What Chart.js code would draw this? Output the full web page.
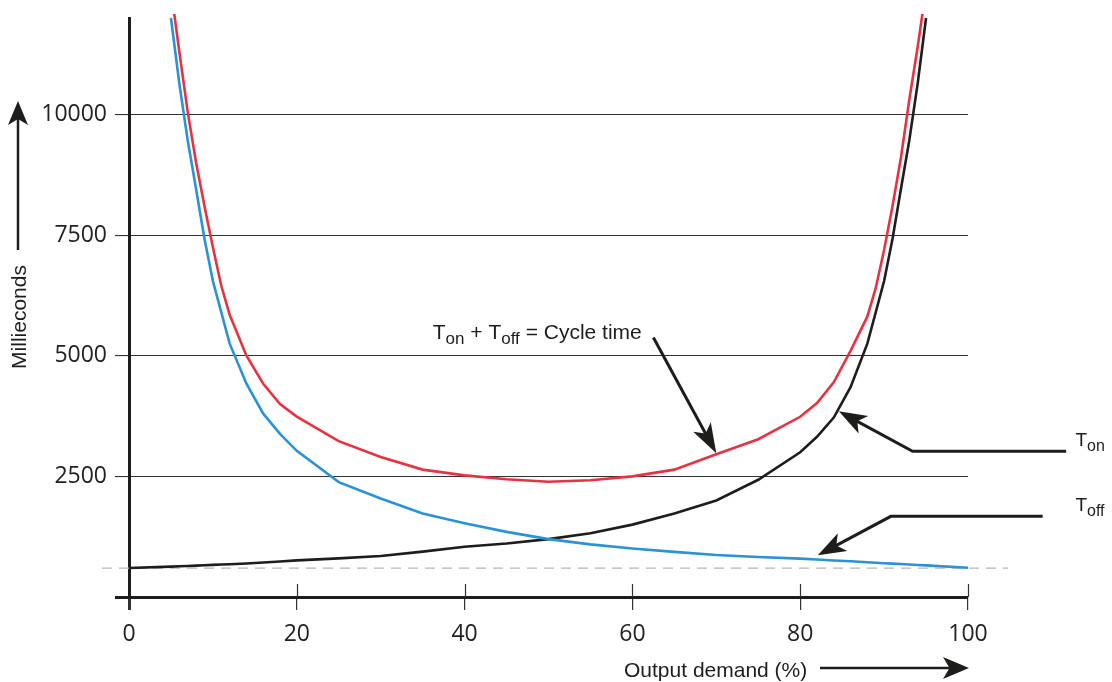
<!DOCTYPE html>
<html>
<head>
<meta charset="utf-8">
<script src="https://cdn.jsdelivr.net/npm/chart.js@4"></script>
<style>
  html, body { margin: 0; padding: 0; background: #fff; }
  #wrap { width: 1112px; height: 682px; position: relative; }
</style>
</head>
<body>
<div id="wrap"><canvas id="cycleChart"></canvas></div>
<script>
// Output demand (%) along the x axis
const demand = [0, 5, 6, 7, 8, 9, 10, 11, 12, 14, 16, 18, 20, 25, 30, 35, 40, 45, 50,
                55, 60, 65, 70, 75, 80, 82, 84, 86, 88, 89, 90, 91, 92, 93, 94, 95, 100];

// milliseconds
const tOff = [null, 12000, 10640, 9460, 8450, 7420, 6550, 5900, 5250, 4420, 3800, 3380, 3030,
              2380, 2040, 1730, 1530, 1350, 1200, 1090, 1005, 935, 870, 830, 795, 777, 758,
              740, 720, 710, 700, 692, 683, 673, 664, 655, 605];
const tOn = [600, 630, 636, 642, 650, 657, 665, 672, 680, 695, 715, 735, 760, 800, 850, 940,
             1040, 1110, 1200, 1320, 1500, 1730, 2000, 2430, 3000, 3320, 3720, 4350, 5250,
             5900, 6550, 7420, 8450, 9460, 10640, 12000, null];
const cycleTime = [null, 12600, 11300, 10050, 9000, 8100, 7250, 6450, 5850, 5000, 4420, 4000,
                   3740, 3230, 2900, 2640, 2520, 2440, 2390, 2420, 2500, 2640, 2960, 3270, 3735,
                   4020, 4450, 5100, 5810, 6400, 7190, 8100, 9100, 10300, 11400, 12600, null];

const yTickValues = [0, 2500, 5000, 7500, 10000];
const xTickStep = 20;
const baseTime = 600;

const ink = '#1d1d1b';
const textFont = '"Liberation Sans", Arial, sans-serif';

Chart.defaults.font.family = '"Open Sans", sans-serif';

function pts(vals) {
    return demand.map((d, i) => ({ x: d, y: vals[i] }));
}

function arrowHead(ctx, fx, fy, tx, ty, len, half) {
    const a = Math.atan2(ty - fy, tx - fx);
    ctx.save();
    ctx.translate(tx, ty);
    ctx.rotate(a);
    ctx.beginPath();
    ctx.moveTo(0, 0);
    ctx.lineTo(-len, -half);
    ctx.lineTo(-len * 0.75, 0);
    ctx.lineTo(-len, half);
    ctx.closePath();
    ctx.fill();
    ctx.restore();
}

// polyline ending in a filled arrow head
function leader(ctx, p, len, half) {
    const n = p.length;
    const [ax, ay] = p[n - 2], [bx, by] = p[n - 1];
    const d = Math.hypot(bx - ax, by - ay);
    const ex = bx - (bx - ax) / d * len * 0.6, ey = by - (by - ay) / d * len * 0.6;
    ctx.beginPath();
    ctx.moveTo(p[0][0], p[0][1]);
    for (let i = 1; i < n - 1; i++) ctx.lineTo(p[i][0], p[i][1]);
    ctx.lineTo(ex, ey);
    ctx.stroke();
    arrowHead(ctx, ax, ay, bx, by, len, half);
}

function subText(ctx, parts, x, y, size, subSize, drop) {
    ctx.textAlign = 'left';
    ctx.textBaseline = 'alphabetic';
    parts.forEach(([s, sub]) => {
        ctx.font = (sub ? subSize : size) + 'px ' + textFont;
        ctx.fillText(s, x, sub ? y + drop : y);
        x += ctx.measureText(s).width;
    });
}

const decor = {
    id: 'decor',
    beforeDatasetsDraw(chart) {
        const { ctx, chartArea: ca, scales: { x, y } } = chart;
        ctx.save();
        // dashed reference at the minimum time
        const yy = y.getPixelForValue(baseTime);
        ctx.strokeStyle = '#b5b5b5';
        ctx.lineWidth = 1.2;
        ctx.setLineDash([10, 7]);
        ctx.beginPath();
        ctx.moveTo(ca.left - 27, yy);
        ctx.lineTo(ca.right + 40, yy);
        ctx.stroke();
        ctx.setLineDash([]);
        // x ticks cross the axis line
        ctx.strokeStyle = '#333';
        ctx.lineWidth = 1.2;
        x.ticks.forEach(t => {
            if (t.value === 0) return;
            const xx = Math.round(x.getPixelForValue(t.value)) + 0.5;
            ctx.beginPath();
            ctx.moveTo(xx, ca.bottom - 13);
            ctx.lineTo(xx, ca.bottom);
            ctx.stroke();
        });
        ctx.restore();
    },
    afterDraw(chart) {
        const { ctx, scales: { x, y } } = chart;
        const P = (vx, vy) => [x.getPixelForValue(vx), y.getPixelForValue(vy)];
        ctx.save();
        ctx.fillStyle = ink;
        ctx.strokeStyle = ink;

        // y axis title with arrow
        ctx.save();
        ctx.translate(20, 317);
        ctx.rotate(-Math.PI / 2);
        ctx.font = '21px ' + textFont;
        ctx.textAlign = 'center';
        ctx.textBaseline = 'middle';
        ctx.fillText('Millieconds', 0, 0);
        ctx.restore();
        ctx.lineWidth = 2.5;
        leader(ctx, [[18, 250], [18, 101]], 24, 10);

        // x axis title with arrow
        ctx.font = '21px ' + textFont;
        ctx.textAlign = 'left';
        ctx.textBaseline = 'alphabetic';
        ctx.fillText('Output demand (%)', 624, 677);
        leader(ctx, [[820, 668], [969, 668]], 26, 11);

        // cycle time note
        const [cx, cy] = P(36.2, 5340);
        subText(ctx, [['T', 0], ['on', 1], [' + T', 0], ['off', 1], [' = Cycle time', 0]],
                cx, cy, 21, 17, 5);
        ctx.lineWidth = 3;
        leader(ctx, [P(62.5, 5380), P(70.0, 2978)], 30, 10);

        // T_on note
        leader(ctx, [P(111.7, 3019), P(93.4, 3019), P(84.6, 3848)], 28, 10);
        const [nx, ny] = P(112.8, 3122);
        subText(ctx, [['T', 0], ['on', 1]], nx, ny, 19, 16, 5);

        // T_off note
        leader(ctx, [P(108.9, 1672), P(90.8, 1672), P(82.1, 864)], 28, 10);
        const [fx, fy] = P(112.8, 1776);
        subText(ctx, [['T', 0], ['off', 1]], fx, fy, 19, 16, 5);

        ctx.restore();
    }
};

const ctx = document.getElementById('cycleChart').getContext('2d');

new Chart(ctx, {
    type: 'line',
    data: {
        datasets: [
            { label: 'Toff', data: pts(tOff), borderColor: '#2a93d5', borderWidth: 2.6 },
            { label: 'Ton', data: pts(tOn), borderColor: ink, borderWidth: 2.6 },
            { label: 'Cycle time', data: pts(cycleTime), borderColor: '#e63241', borderWidth: 2.6 }
        ]
    },
    options: {
        responsive: true,
        maintainAspectRatio: false,
        animation: false,
        datasets: {
            line: { pointRadius: 0, tension: 0, clip: 4, fill: false }
        },
        layout: { padding: { top: 18, right: 144, left: 0, bottom: 0 } },
        plugins: {
            legend: { display: false },
            tooltip: { enabled: false }
        },
        scales: {
            x: {
                type: 'linear',
                min: 0,
                max: 100,
                afterFit: s => { s.height = 85; s.paddingLeft = 0; s.paddingRight = 0; },
                border: { display: false },
                grid: {
                    drawOnChartArea: false,
                    drawTicks: true,
                    tickLength: 13,
                    color: '#333',
                    lineWidth: c => c.tick && c.tick.value === 0 ? 3 : 1.2
                },
                ticks: {
                    stepSize: xTickStep,
                    padding: 11,
                    color: '#222',
                    font: { size: 23 },
                    maxRotation: 0
                }
            },
            y: {
                min: 0,
                max: 12000,
                afterFit: s => { s.width = 129; s.paddingTop = 0; s.paddingBottom = 0; },
                afterBuildTicks: s => { s.ticks = yTickValues.map(v => ({ value: v })); },
                border: { display: true, color: ink, width: 3 },
                grid: {
                    tickLength: 14,
                    color: c => c.tick && c.tick.value === 0 ? ink : '#333',
                    lineWidth: c => c.tick && c.tick.value === 0 ? 3 : 1.1
                },
                ticks: {
                    padding: 8,
                    color: '#222',
                    font: { size: 23 },
                    callback: v => v === 0 ? '' : String(v)
                }
            }
        }
    },
    plugins: [decor]
});
</script>
</body>
</html>
